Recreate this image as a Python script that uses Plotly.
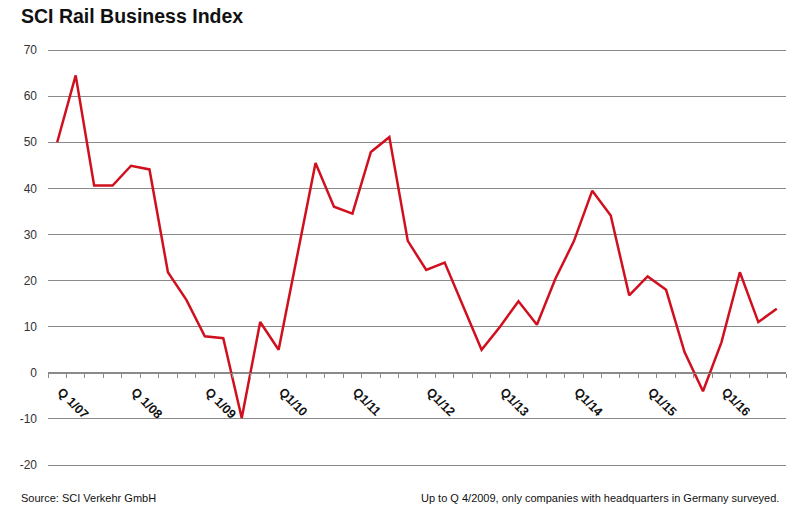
import plotly.graph_objects as go

quarters = [f"Q{q}/{y:02d}" for y in range(7, 17) for q in range(1, 5)]
values = [50, 64.5, 40.6, 40.6, 44.9, 44.1, 21.8, 15.8, 7.9, 7.5,
          -9.8, 11.0, 5.0, 25.2, 45.5, 36.0, 34.5, 47.9, 51.1, 28.6,
          22.3, 23.9, 14.5, 5.0, 10.0, 15.5, 10.4, 20.4, 28.5, 39.5,
          34.1, 16.8, 20.9, 18.0, 4.5, -4.0, 6.6, 21.8, 11.0, 13.9]
label_map = {"Q1/07": "Q 1/07", "Q1/08": "Q 1/08", "Q1/09": "Q 1/09",
             "Q1/10": "Q1/10", "Q1/11": "Q1/11", "Q1/12": "Q1/12",
             "Q1/13": "Q1/13", "Q1/14": "Q1/14", "Q1/15": "Q1/15",
             "Q1/16": "Q1/16"}
tick_text = [label_map.get(q, "") for q in quarters]
y_ticks = [70, 60, 50, 40, 30, 20, 10, 0, -10, -20]
y_tick_text = ["70", "60", "50", "40", "30", "20", "10", "0", "-10", "-20"]

pad = 2 / (415 / 90)
y_range = [-20 - pad, 70 + pad]

fig = go.Figure()
fig.add_trace(go.Scatter(x=quarters, y=values, mode="lines",
                         line=dict(color="#d0101f", width=2.5),
                         hoverinfo="skip"))

fig.update_layout(
    width=800, height=518,
    margin=dict(l=48, r=14, t=48, b=51, autoexpand=False),
    paper_bgcolor="white", plot_bgcolor="white",
    showlegend=False,
    font=dict(family="Liberation Sans, Arial, sans-serif", color="#333"),
    xaxis=dict(
        type="category", tickmode="array", tickvals=quarters, ticktext=tick_text,
        tickson="boundaries", ticks="outside", ticklen=4, tickcolor="#8a8a8a",
        showline=True, linecolor="#8a8a8a", linewidth=1,
        showgrid=False, zeroline=False, tickangle=45, automargin=False,
        ticklabelshift=4, ticklabelstandoff=6,
        tickfont=dict(size=12.5, color="#111", family="Liberation Sans, Arial, sans-serif", weight="bold"),
        anchor="free", position=(0 - y_range[0]) / (y_range[1] - y_range[0]),
        range=[-0.5, 39.5],
    ),
    yaxis=dict(
        range=y_range, tickmode="array", tickvals=y_ticks, ticktext=y_tick_text,
        showgrid=True, gridcolor="#8a8a8a", gridwidth=1, automargin=False,
        zeroline=False, showline=False, ticks="", ticklabelstandoff=10,
        tickfont=dict(size=12, color="#333"),
    ),
)

fig.add_annotation(text="<b>SCI Rail Business Index</b>", xref="paper", yref="paper",
                   x=0, xshift=-48 + 20 - 1, y=1, yshift=32, xanchor="left", yanchor="middle",
                   showarrow=False, font=dict(size=19.5, color="#111"))
fig.add_annotation(text="Source: SCI Verkehr GmbH", xref="paper", yref="paper",
                   x=0, xshift=-48 + 20 - 1, y=0, yshift=-31, xanchor="left", yanchor="middle",
                   showarrow=False, font=dict(size=11, color="#111"))
fig.add_annotation(text="Up to Q 4/2009, only companies with headquarters in Germany surveyed.",
                   xref="paper", yref="paper",
                   x=1, xshift=14 - 20 + 1, y=0, yshift=-31, xanchor="right", yanchor="middle",
                   showarrow=False, font=dict(size=11, color="#111"))

fig.write_html("out.html", config={"displayModeBar": False, "staticPlot": True},
               post_script="document.body.style.margin='0';document.body.style.overflow='hidden';")
